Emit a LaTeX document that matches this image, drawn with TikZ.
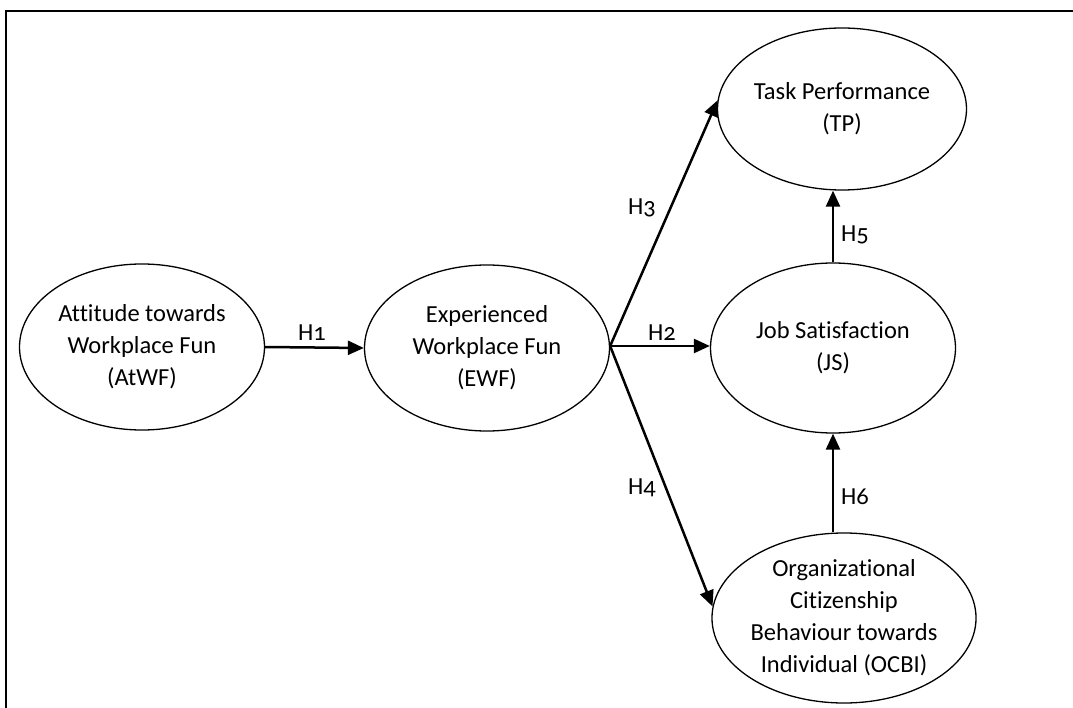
\documentclass[tikz,border=0pt]{standalone}
\usepackage{fontspec}
\setmainfont{Carlito}[Numbers=OldStyle,Ligatures=NoCommon]
\usetikzlibrary{arrows.meta,shapes.geometric,calc}
\tikzset{
  ell/.style={ellipse,draw,line width=1.3pt,minimum width=245pt,minimum height=166pt,inner sep=0pt,align=center,font=\fontsize{24.5}{32}\selectfont},
  conn/.style={line width=2.5pt,-{Triangle[length=16pt,width=14pt]}},
  hlab/.style={font=\fontsize{24.5}{28}\selectfont,inner sep=0pt}
}
\begin{document}
\begin{tikzpicture}[x=1pt,y=-1pt]
\useasboundingbox (0,0) rectangle (1073,708);
\draw[line width=2pt] (1073,11) -- (6,11) -- (6,708);
\node[ell] (atwf) at (142,347) {Attitude towards\\Workplace Fun\\(AtWF)};
\node[ell] (ewf) at (487,348) {Experienced\\Workplace Fun\\(EWF)};
\node[ell,minimum height=162pt] (tp) at (842,109) {Task Performance\\(TP)};
\node[ell,minimum height=170pt] (js) at (833,348) {Job Satisfaction\\(JS)};
\node[ell,minimum height=170pt] (ocbi) at (844,618) {Organizational\\Citizenship\\Behaviour towards\\Individual (OCBI)};
\coordinate (br) at ([yshift=2pt]ewf.east);
\draw[conn] (atwf.east) -- (ewf.west);
\draw[conn] (br) -- (br -| js.west);
\draw[conn] (br) -- (tp.176);
\draw[conn] (br) -- (ocbi.175);
\draw[conn] (js.north) -- (js.north |- tp.south);
\draw[conn] (js.south |- ocbi.north) -- (js.south);
\node[hlab] (h1) at (312,333) {H1};
\node[hlab] (h2) at (662,333) {H2};
\node[hlab] (h3) at (642,208) {H3};
\node[hlab] (h4) at (642,488) {H4};
\node[hlab] (h5) at (855,235) {H5};
\node[hlab] (h6) at (855,497) {H6};
\end{tikzpicture}
\end{document}
